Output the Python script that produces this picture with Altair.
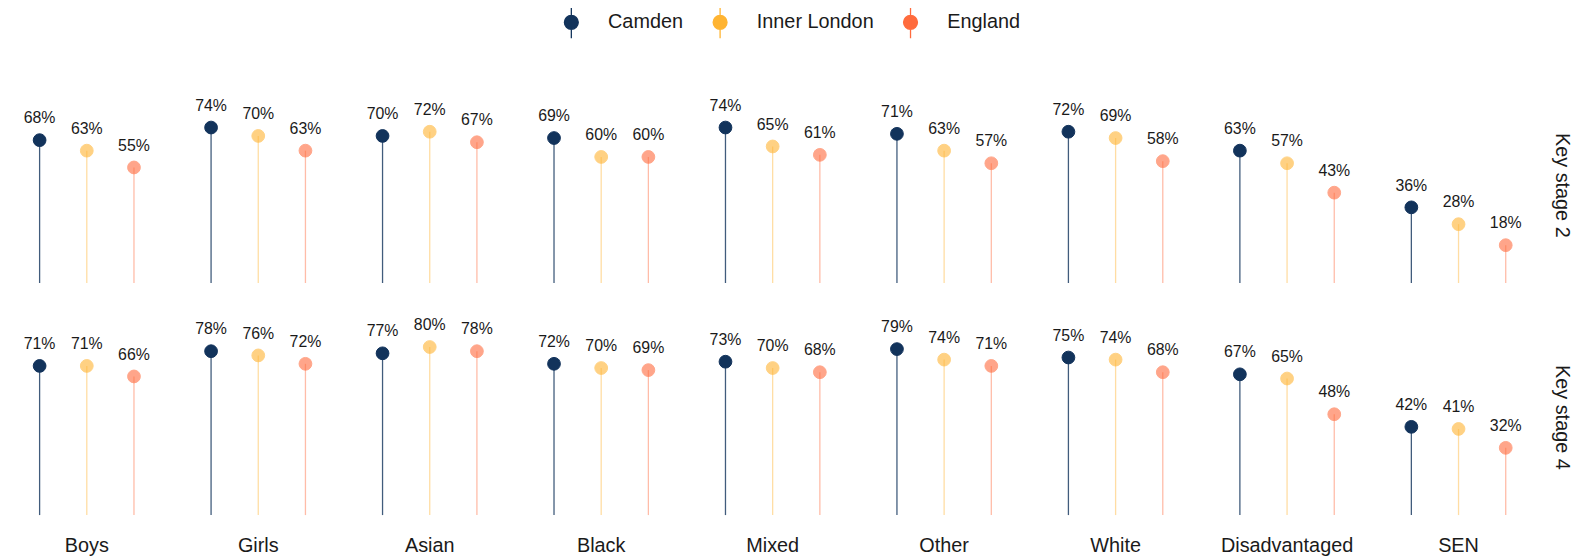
import altair as alt
import pandas as pd

categories = ["Boys", "Girls", "Asian", "Black", "Mixed", "Other", "White", "Disadvantaged", "SEN"]
series_order = ["Camden", "Inner London", "England"]
stages = ["Key stage 2", "Key stage 4"]

ks2_camden = [68, 74, 70, 69, 74, 71, 72, 63, 36]
ks2_inner = [63, 70, 72, 60, 65, 63, 69, 57, 28]
ks2_england = [55, 63, 67, 60, 61, 57, 58, 43, 18]

ks4_camden = [71, 78, 77, 72, 73, 79, 75, 67, 42]
ks4_inner = [71, 76, 80, 70, 70, 74, 74, 65, 41]
ks4_england = [66, 72, 78, 69, 68, 71, 68, 48, 32]

colors = ["#12335B", "#FFB432", "#FF6B3D"]

rows = []
for stage, lists in zip(stages, [(ks2_camden, ks2_inner, ks2_england),
                                 (ks4_camden, ks4_inner, ks4_england)]):
    for s, vals in zip(series_order, lists):
        for c, v in zip(categories, vals):
            rows.append({"stage": stage, "category": c, "series": s, "value": v})
df = pd.DataFrame(rows)

FONT = "Liberation Sans"

x_enc = alt.X("category:N", sort=categories,
              scale=alt.Scale(domain=categories, paddingInner=0, paddingOuter=0, range=[-7, 1549]),
              axis=alt.Axis(title=None, labelAngle=0, labelFontSize=20, labelFont=FONT,
                            labelColor="#1a1a1a", ticks=False, domain=False, grid=False,
                            labelPadding=20))
xoff = alt.XOffset("series:N", sort=series_order,
                   scale=alt.Scale(domain=series_order, paddingOuter=0.317, paddingInner=0))
y_enc = alt.Y("value:Q", scale=alt.Scale(domain=[0, 93], nice=False, zero=True), axis=None)

legend_path = "M0,-2.29V2.29M-1,0A1,1 0 1,0 1,0A1,1 0 1,0 -1,0Z"

leg = alt.Legend(title=None, orient="none", direction="horizontal",
                 legendX=558, legendY=-76,
                 labelFontSize=20, labelFont=FONT, labelColor="#1a1a1a",
                 symbolType=legend_path, symbolSize=196, symbolOpacity=1,
                 symbolStrokeWidth=1.3, labelOffset=27, columnPadding=27)

color_enc = alt.Color("series:N", sort=series_order,
                      scale=alt.Scale(domain=series_order, range=colors), legend=leg)
stroke_enc = alt.Stroke("series:N", sort=series_order,
                        scale=alt.Scale(domain=series_order, range=colors), legend=leg)

is_camden = alt.datum.series == "Camden"

base = alt.Chart()

rules = base.mark_rule(strokeWidth=1.3).encode(
    x=x_enc, xOffset=xoff, y=y_enc, y2=alt.datum(0),
    color=color_enc,
    opacity=alt.condition(is_camden, alt.value(0.8), alt.value(0.45)),
)

points = base.mark_circle(size=165, strokeWidth=1).encode(
    x=x_enc, xOffset=xoff, y=y_enc,
    color=color_enc,
    stroke=stroke_enc,
    opacity=alt.condition(is_camden, alt.value(1), alt.value(0.6)),
)

labels = base.transform_calculate(label="datum.value + '%'").mark_text(
    dy=-17, baseline="alphabetic", align="center", fontSize=16, font=FONT, color="#1a1a1a"
).encode(x=x_enc, xOffset=xoff, y=y_enc, text="label:N")

layer = alt.layer(rules, points, labels).properties(width=1549, height=197)

chart = layer.facet(
    data=df,
    row=alt.Row("stage:N", sort=stages, title=None,
                header=alt.Header(labelAngle=90, labelOrient="right", labelFontSize=20,
                                  labelFont=FONT, labelColor="#1a1a1a", labelPadding=8)),
    spacing=33,
).resolve_scale(x="shared", y="shared").configure_view(stroke=None).properties(
    padding={"left": 0, "top": 2, "right": 5, "bottom": 0}
)

chart.save("out.html", embed_options={"renderer": "svg", "actions": False})
